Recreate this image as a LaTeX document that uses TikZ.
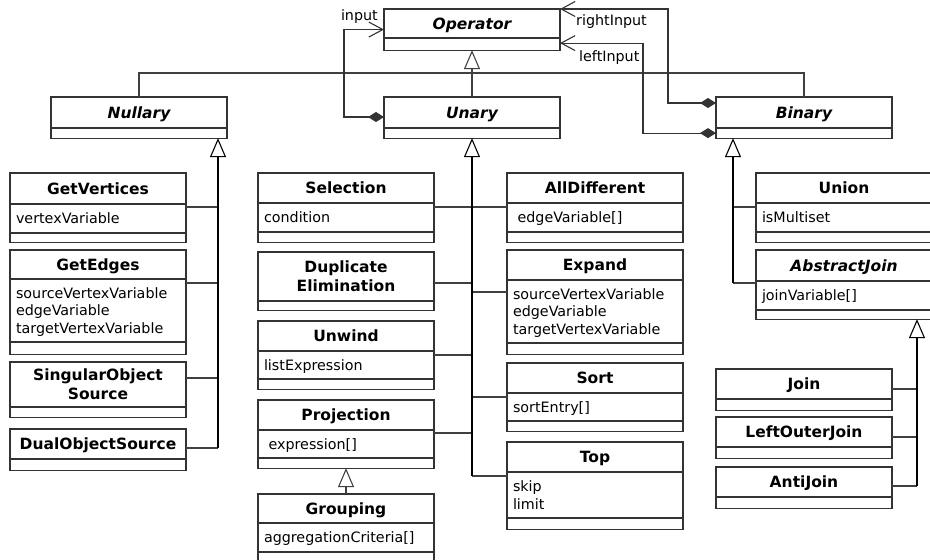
\documentclass[tikz,border=0pt]{standalone}
\usepackage{fontspec}
\setmainfont{DejaVu Sans}
\usetikzlibrary{arrows.meta,shapes.multipart,positioning}

\newcommand{\clsfont}{\fontsize{14.3}{17.5}\selectfont}
\newcommand{\clsname}[2][30pt]{\parbox[c][\dimexpr#1-1.1pt][c]{176pt}{\centering\fontsize{15.5}{19}\selectfont\bfseries #2\par\vskip-\prevdepth}}
\newcommand{\clsattr}[2][29pt]{\parbox[c][\dimexpr#1-1.1pt][c]{176pt}{\raggedright\leftskip=6pt #2\par\vskip-\prevdepth}}
\newcommand{\clsfoot}[1][9pt]{\parbox[c][#1][c]{176pt}{}}

\begin{document}
\begin{tikzpicture}[x=1pt, y=-1pt,
    cls/.style={rectangle split, rectangle split parts=3, draw=black!80, line width=1.1pt,
        inner sep=0pt, outer sep=0pt, anchor=north west, font=\clsfont},
    cls2/.style={cls, rectangle split parts=2},
    branch/.style={draw=black!75, line width=1.1pt},
    trunk/.style={draw=black, line width=2pt},
    gen/.style={-{Triangle[open, length=19pt, width=16pt, line width=1.1pt]}},
    assoc/.style={draw=black!80, line width=1.1pt,
        {Diamond[length=16pt, width=10pt]}-{Straight Barb[length=14pt, width=15pt, line width=1.1pt]}},
    lbl/.style={inner sep=0pt, font=\clsfont}]
    \useasboundingbox (0,0) rectangle (930,560);

    % Top level
    \node[cls2] (operator) at (384,9) {\clsname[29pt]{\itshape Operator}\nodepart{two}\clsfoot[11pt]};
    \node[cls2] (nullary) at (51,97) {\clsname[31pt]{\itshape Nullary}\nodepart{two}\clsfoot};
    \node[cls2] (unary) at (384,97) {\clsname[31pt]{\itshape Unary}\nodepart{two}\clsfoot};
    \node[cls2] (binary) at (716,97) {\clsname[31pt]{\itshape Binary}\nodepart{two}\clsfoot};

    % Nullary operators
    \node[cls] (getvertices) at (10,173) {\clsname[31pt]{GetVertices}\nodepart{two}\clsattr{vertexVariable}\nodepart{three}\clsfoot[8pt]};
    \node[cls] (getedges) at (10,250) {\clsname[29pt]{GetEdges}\nodepart{two}\clsattr[63pt]{sourceVertexVariable\\edgeVariable\\targetVertexVariable}\nodepart{three}\clsfoot[11pt]};
    \node[cls2] (singular) at (10,362) {\clsname[45pt]{SingularObject\\Source}\nodepart{two}\clsfoot};
    \node[cls2] (dualobject) at (10,429) {\clsname{DualObjectSource}\nodepart{two}\clsfoot[10pt]};

    % Unary operators, left side
    \node[cls] (selection) at (258,173) {\clsname{Selection}\nodepart{two}\clsattr{condition}\nodepart{three}\clsfoot};
    \node[cls2] (duplicate) at (258,252) {\clsname[49pt]{Duplicate\\Elimination}\nodepart{two}\clsfoot[8pt]};
    \node[cls] (unwind) at (258,321) {\clsname{Unwind}\nodepart{two}\clsattr[28pt]{listExpression}\nodepart{three}\clsfoot};
    \node[cls] (projection) at (258,400) {\clsname{Projection}\nodepart{two}\clsattr[28pt]{\ expression[]}\nodepart{three}\clsfoot};
    \node[cls] (grouping) at (258,494) {\clsname[29pt]{Grouping}\nodepart{two}\clsattr{aggregationCriteria[]}\nodepart{three}\clsfoot};

    % Unary operators, right side
    \node[cls] (alldifferent) at (507,173) {\clsname{AllDifferent}\nodepart{two}\clsattr{\ edgeVariable[]}\nodepart{three}\clsfoot};
    \node[cls] (expand) at (507,250) {\clsname{Expand}\nodepart{two}\clsattr[63pt]{sourceVertexVariable\\edgeVariable\\targetVertexVariable}\nodepart{three}\clsfoot[10pt]};
    \node[cls] (sort) at (507,363) {\clsname{Sort}\nodepart{two}\clsattr[28pt]{sortEntry[]}\nodepart{three}\clsfoot};
    \node[cls] (top) at (507,442) {\clsname{Top}\nodepart{two}\clsattr[46pt]{skip\\limit}\nodepart{three}\clsfoot[10pt]};

    % Binary operators
    \node[cls] (union) at (756,173) {\clsname{Union}\nodepart{two}\clsattr{isMultiset}\nodepart{three}\clsfoot};
    \node[cls] (abstractjoin) at (756,250) {\clsname[31pt]{\itshape AbstractJoin}\nodepart{two}\clsattr{joinVariable[]}\nodepart{three}\clsfoot[8pt]};
    \node[cls2] (join) at (716,369) {\clsname{Join}\nodepart{two}\clsfoot[10pt]};
    \node[cls2] (leftouterjoin) at (716,417) {\clsname{LeftOuterJoin}\nodepart{two}\clsfoot[10pt]};
    \node[cls2] (antijoin) at (716,467) {\clsname{AntiJoin}\nodepart{two}\clsfoot[10pt]};

    % Inheritance buses
    \coordinate (genbar) at (472,73);
    \coordinate (nbus) at (218,448);
    \coordinate (ubus) at (472,476);
    \coordinate (bbus) at (733,283);
    \coordinate (jbus) at (917,486);

    \draw[branch] (nullary.north) |- (genbar) -| (binary.north);
    \draw[branch, gen] (unary.north) -- (operator.south);

    \draw[branch] ([yshift=-34pt]getvertices.north east) -| (nbus);
    \draw[branch] ([yshift=-33pt]getedges.north east) -| (nbus);
    \draw[branch] ([yshift=-16pt]singular.north east) -| (nbus);
    \draw[branch] ([yshift=-19pt]dualobject.north east) -| (nbus);
    \draw[trunk, gen] (nbus) -- (nbus |- nullary.south);

    \draw[branch] ([yshift=-34pt]selection.north east) -| (ubus);
    \draw[branch] ([yshift=-31pt]duplicate.north east) -| (ubus);
    \draw[branch] ([yshift=-34pt]unwind.north east) -| (ubus);
    \draw[branch] ([yshift=-33pt]projection.north east) -| (ubus);
    \draw[branch] ([yshift=-34pt]alldifferent.north west) -| (ubus);
    \draw[branch] ([yshift=-42pt]expand.north west) -| (ubus);
    \draw[branch] ([yshift=-34pt]sort.north west) -| (ubus);
    \draw[branch] ([yshift=-34pt]top.north west) -| (ubus);
    \draw[trunk, gen] (ubus) -- (unary.south);

    \draw[branch, gen] (grouping.north) -- (projection.south);

    \draw[branch] ([yshift=-34pt]union.north west) -| (bbus);
    \draw[branch] ([yshift=-33pt]abstractjoin.north west) -| (bbus);
    \draw[trunk, gen] (bbus) -- (bbus |- binary.south);

    \draw[branch] ([yshift=-20pt]join.north east) -| (jbus);
    \draw[branch] ([yshift=-20pt]leftouterjoin.north east) -| (jbus);
    \draw[branch] ([yshift=-19pt]antijoin.north east) -| (jbus);
    \draw[trunk, gen] (jbus) -- (jbus |- abstractjoin.south);

    % Input associations
    \draw[assoc] ([yshift=-20pt]unary.north west) -- ++(-40,0) |- (operator.west);
    \draw[assoc] ([yshift=-6pt]binary.north west) -- ++(-48,0) |- (operator.north east);
    \draw[assoc] ([yshift=5pt]binary.south west) -- ++(-73,0) |- ([yshift=7pt]operator.south east);

    \node[lbl, anchor=base east] (inputlbl) at ([xshift=-6pt, yshift=9pt]operator.west) {input};
    \node[lbl, anchor=base west] (rightlbl) at ([xshift=16pt, yshift=-16pt]operator.north east) {rightInput};
    \node[lbl, anchor=base west] (leftlbl) at ([xshift=19pt, yshift=-11pt]operator.south east) {leftInput};
\end{tikzpicture}
\end{document}
